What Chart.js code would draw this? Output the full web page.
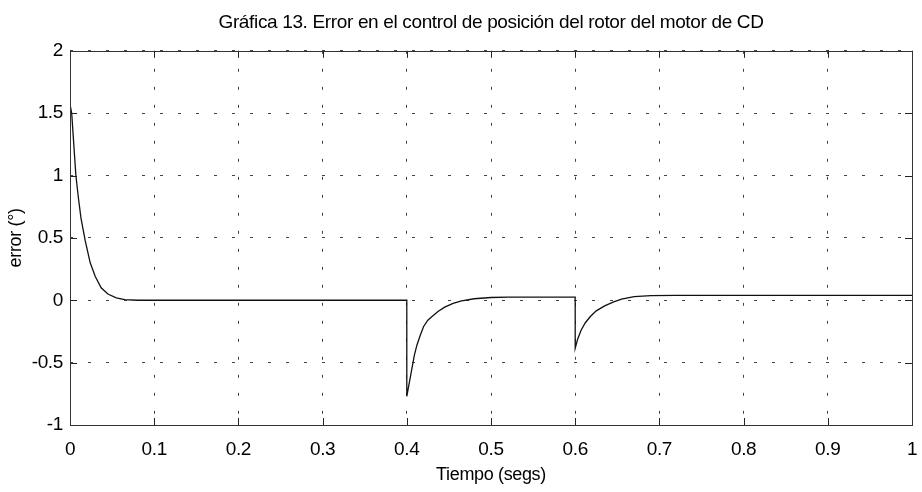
<!DOCTYPE html>
<html>
<head>
<meta charset="utf-8">
<script src="https://cdn.jsdelivr.net/npm/chart.js@4"></script>
<style>
  html, body { margin: 0; padding: 0; background: #fff; }
  #wrap { width: 922px; height: 492px; }
</style>
</head>
<body>
<div id="wrap"><canvas id="errChart"></canvas></div>
<script>
// ---- data: rotor position error vs time ----
const timeValues  = [0, 0.002, 0.004, 0.007, 0.010, 0.013, 0.018, 0.024, 0.030, 0.037, 0.045, 0.055, 0.065, 0.08,
                     0.4, 0.4, 0.403, 0.406, 0.409, 0.412, 0.416, 0.420, 0.425, 0.430, 0.437, 0.445, 0.455, 0.465, 0.48, 0.50, 0.52,
                     0.6, 0.6, 0.603, 0.607, 0.612, 0.618, 0.625, 0.635, 0.645, 0.655, 0.67, 0.69, 0.72, 1.0];
const errorValues = [1.57, 1.50, 1.30, 1.00, 0.82, 0.66, 0.48, 0.30, 0.19, 0.10, 0.05, 0.02, 0.005, 0.0,
                     0.0, -0.77, -0.66, -0.55, -0.44, -0.36, -0.28, -0.21, -0.16, -0.13, -0.09, -0.055, -0.025, -0.005, 0.012, 0.022, 0.025,
                     0.025, -0.385, -0.31, -0.24, -0.18, -0.13, -0.085, -0.045, -0.015, 0.01, 0.03, 0.038, 0.04, 0.04];

const xTickValues = [0, 0.1, 0.2, 0.3, 0.4, 0.5, 0.6, 0.7, 0.8, 0.9, 1];
const xTickLabels = ['0', '0.1', '0.2', '0.3', '0.4', '0.5', '0.6', '0.7', '0.8', '0.9', '1'];
const yTickValues = [-1, -0.5, 0, 0.5, 1, 1.5, 2];
const yTickLabels = ['-1', '-0.5', '0', '0.5', '1', '1.5', '2'];

const titleText = 'Gráfica 13. Error en el control de posición del rotor del motor de CD';
const xTitle = 'Tiempo (segs)';
const yTitle = 'error (°)';

const textFont = '"Liberation Sans", Arial, sans-serif';

// tighter text, title centred over the axes box instead of the canvas
const textTweaks = {
    id: 'textTweaks',
    afterLayout(chart) {
        const tb = chart.titleBlock;
        if (tb) {
            tb.left = chart.chartArea.left;
            tb.right = chart.chartArea.right;
        }
    },
    beforeDraw(chart) {
        chart.ctx.letterSpacing = '-0.35px';
    }
};

// box around the axes + short inward tick marks
const boxTicks = {
    id: 'boxTicks',
    afterDraw(chart) {
        const { ctx, chartArea: a, scales } = chart;
        ctx.save();
        ctx.strokeStyle = '#222';
        ctx.lineWidth = 1;
        ctx.beginPath();
        scales.x.ticks.forEach(t => {
            const px = Math.round(scales.x.getPixelForValue(t.value)) + 0.5;
            ctx.moveTo(px, a.bottom); ctx.lineTo(px, a.bottom - 7);
            ctx.moveTo(px, a.top);    ctx.lineTo(px, a.top + 7);
        });
        scales.y.ticks.forEach(t => {
            const py = Math.round(scales.y.getPixelForValue(t.value)) + 0.5;
            ctx.moveTo(a.left, py);  ctx.lineTo(a.left + 7, py);
            ctx.moveTo(a.right, py); ctx.lineTo(a.right - 7, py);
        });
        ctx.stroke();
        ctx.strokeStyle = '#333';
        ctx.strokeRect(Math.round(a.left) + 0.5, Math.round(a.top) + 0.5,
                       Math.round(a.right - a.left), Math.round(a.bottom - a.top));
        ctx.restore();
    }
};

new Chart(document.getElementById('errChart'), {
    type: 'line',
    data: {
        datasets: [{
            data: timeValues.map((t, i) => ({ x: t, y: errorValues[i] })),
            borderColor: '#111',
            borderWidth: 1.3,
            pointRadius: 0,
            tension: 0,
            fill: false
        }]
    },
    options: {
        responsive: true,
        maintainAspectRatio: false,
        animation: false,
        layout: { padding: { left: 0, right: 10, top: 0, bottom: 0 } },
        plugins: {
            legend: { display: false },
            tooltip: { enabled: false },
            title: {
                display: true,
                text: titleText,
                color: '#000',
                font: { family: textFont, size: 19, weight: 'normal' },
                padding: { top: 11, bottom: 17 }
            }
        },
        scales: {
            x: {
                type: 'linear',
                min: 0, max: 1,
                afterBuildTicks: s => { s.ticks = xTickValues.map(v => ({ value: v })); },
                afterFit: s => {
                    s.height = 67;
                    s.paddingLeft = 0;
                    s.paddingRight = 0;
                },
                ticks: {
                    color: '#000',
                    padding: 13,
                    maxRotation: 0,
                    font: { family: textFont, size: 19 },
                    callback: v => xTickLabels[xTickValues.indexOf(v)]
                },
                grid: { color: '#444', drawTicks: false, lineWidth: 1 },
                border: { display: false, dash: [3, 15] },
                title: {
                    display: true, text: xTitle, color: '#000',
                    font: { family: textFont, size: 18 },
                    padding: { top: 0, bottom: 6 }
                }
            },
            y: {
                type: 'linear',
                min: -1, max: 2,
                afterBuildTicks: s => { s.ticks = yTickValues.map(v => ({ value: v })); },
                afterFit: s => {
                    s.width = 70;
                    s.paddingTop = 0;
                    s.paddingBottom = 0;
                },
                ticks: {
                    color: '#000',
                    padding: 7,
                    font: { family: textFont, size: 19 },
                    callback: v => yTickLabels[yTickValues.indexOf(v)]
                },
                grid: { color: '#444', drawTicks: false, lineWidth: 1 },
                border: { display: false, dash: [3, 15] },
                title: {
                    display: true, text: yTitle, color: '#000',
                    font: { family: textFont, size: 18 },
                    padding: { top: 5, bottom: 0 }
                }
            }
        }
    },
    plugins: [textTweaks, boxTicks]
});
</script>
</body>
</html>
